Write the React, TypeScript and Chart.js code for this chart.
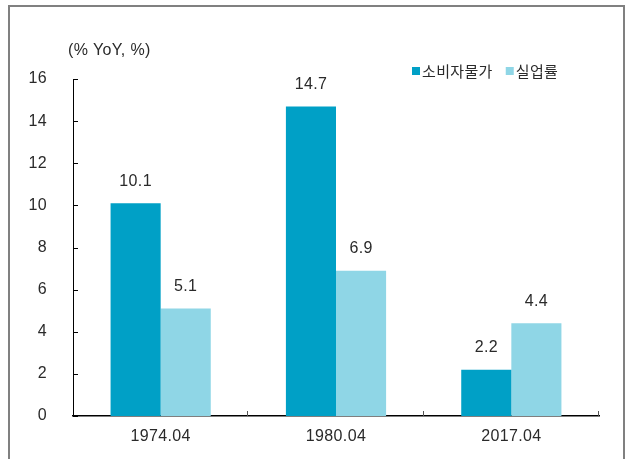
import React, { useEffect, useRef } from "react";
import { Chart, registerables } from "chart.js";

Chart.register(...registerables);

const categories = ["1974.04", "1980.04", "2017.04"];
const cpiValues = [10.1, 14.7, 2.2];
const unempValues = [5.1, 6.9, 4.4];
const seriesNames = ["소비자물가", "실업률"];
const seriesColors = ["#00A0C6", "#8FD6E6"];
const yTicks = [0, 2, 4, 6, 8, 10, 12, 14, 16];
const unitLabel = "(% YoY, %)";

const NUM_FONT = "'Liberation Sans', Arial, sans-serif";
const KR_FONT = "'Noto Sans CJK KR', sans-serif";
const TEXT_COLOR = "#2a2a2a";

const decorPlugin = {
  id: "decor",
  beforeDraw(chart: any) {
    const ctx = chart.ctx;
    ctx.save();
    ctx.fillStyle = "#fff";
    ctx.fillRect(0, 0, chart.width, chart.height);
    ctx.fillStyle = "#808080";
    ctx.fillRect(8, 5, 2, chart.height);
    ctx.fillRect(8, 5, 617, 2);
    ctx.fillRect(623, 5, 2, chart.height);
    ctx.restore();
    try {
      ctx.letterSpacing = "0.35px";
    } catch (e) {}
  },
  afterDraw(chart: any) {
    const ctx = chart.ctx;
    const area = chart.chartArea;
    const y = chart.scales.y;
    ctx.save();
    ctx.strokeStyle = "#000";
    ctx.lineWidth = 1;
    yTicks.forEach((v) => {
      const py = Math.round(y.getPixelForValue(v)) + 0.5;
      ctx.beginPath();
      ctx.moveTo(area.left, py);
      ctx.lineTo(area.left + 5, py);
      ctx.stroke();
    });
    const n = categories.length;
    const step = (area.right - area.left) / n;
    ctx.strokeStyle = "#555";
    for (let i = 1; i <= n; i++) {
      const px = Math.round(area.left + step * i) - 0.5;
      ctx.beginPath();
      ctx.moveTo(px, area.bottom);
      ctx.lineTo(px, area.bottom - 5);
      ctx.stroke();
    }
    ctx.fillStyle = TEXT_COLOR;
    ctx.font = `16px ${NUM_FONT}`;
    ctx.textBaseline = "middle";
    ctx.textAlign = "left";
    ctx.fillText(unitLabel, 68, 51);
    let lx = 412;
    const ly = 71;
    chart.data.datasets.forEach((ds: any) => {
      ctx.fillStyle = ds.backgroundColor;
      ctx.fillRect(lx, ly - 4, 8, 8);
      ctx.fillStyle = TEXT_COLOR;
      ctx.font = `15px ${KR_FONT}`;
      ctx.fillText(ds.label, lx + 10, ly);
      lx += 10 + ctx.measureText(ds.label).width + 13;
    });
    ctx.font = `16px ${NUM_FONT}`;
    ctx.textAlign = "center";
    ctx.fillStyle = TEXT_COLOR;
    chart.data.datasets.forEach((ds: any, i: number) => {
      const meta = chart.getDatasetMeta(i);
      meta.data.forEach((bar: any, j: number) => {
        ctx.fillText(Number(ds.data[j]).toFixed(1), bar.x, bar.y - 22);
      });
    });
    ctx.restore();
  },
};

export default function App() {
  const ref = useRef<HTMLCanvasElement | null>(null);
  useEffect(() => {
    if (!ref.current) return;
    const chart = new Chart(ref.current, {
      type: "bar",
      data: {
        labels: categories,
        datasets: [
          {
            label: seriesNames[0],
            data: cpiValues,
            backgroundColor: seriesColors[0],
            categoryPercentage: 100 / 175,
            barPercentage: 1,
          },
          {
            label: seriesNames[1],
            data: unempValues,
            backgroundColor: seriesColors[1],
            categoryPercentage: 100 / 175,
            barPercentage: 1,
          },
        ],
      },
      options: {
        responsive: false,
        animation: false,
        layout: { padding: { left: 0, top: 79, right: 27, bottom: 0 } },
        plugins: {
          legend: { display: false },
          tooltip: { enabled: false },
          title: { display: false },
        },
        scales: {
          x: {
            grid: { display: false },
            border: { display: true, color: "#000", width: 1.5 },
            ticks: {
              color: TEXT_COLOR,
              font: { family: NUM_FONT, size: 16 },
              padding: 3,
              maxRotation: 0,
            },
            afterFit: (s: any) => {
              s.height = 43;
            },
          },
          y: {
            min: 0,
            max: 16,
            grid: { display: false },
            border: { display: true, color: "#000", width: 1 },
            ticks: {
              stepSize: 2,
              color: TEXT_COLOR,
              font: { family: NUM_FONT, size: 16 },
              padding: 18,
            },
            afterFit: (s: any) => {
              s.width = 73;
            },
          },
        },
      },
      plugins: [decorPlugin],
    });
    return () => chart.destroy();
  }, []);
  return (
    <div style={{ position: "fixed", left: 0, top: 0, width: 626, height: 459, background: "#fff" }}>
      <canvas ref={ref} width={626} height={459} style={{ display: "block", width: 626, height: 459 }} />
    </div>
  );
}
